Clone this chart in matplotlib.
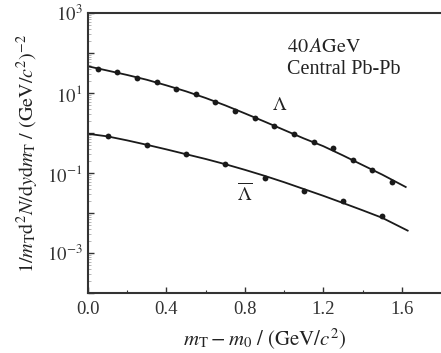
import matplotlib
matplotlib.use("Agg")
import matplotlib.pyplot as plt
from matplotlib.ticker import FixedLocator, NullFormatter, LogLocator

plt.rcParams['font.family'] = ['Liberation Serif', 'DejaVu Serif']
plt.rcParams['mathtext.fontset'] = 'stix'

# Lambda data points
lam_x = [0.05, 0.15, 0.25, 0.35, 0.45, 0.55, 0.65, 0.75, 0.85, 0.95,
         1.05, 1.15, 1.25, 1.35, 1.45, 1.55]
lam_y = [40.5, 32.9, 24.1, 18.5, 12.4, 9.28, 5.96, 3.49, 2.33, 1.47,
         0.928, 0.606, 0.414, 0.208, 0.121, 0.0606]
# Lambda fit curve
lam_fit_x = [0.0, 0.1, 0.2, 0.3, 0.4, 0.5, 0.6, 0.7, 0.8, 0.9, 1.0,
             1.1, 1.2, 1.3, 1.4, 1.5, 1.62]
lam_fit_y = [46.5, 36.3, 28.2, 21.4, 15.5, 11.0, 7.50, 4.90, 3.09, 1.93,
             1.19, 0.733, 0.468, 0.275, 0.158, 0.0912, 0.0447]

# Anti-Lambda data points
alam_x = [0.1, 0.3, 0.5, 0.7, 0.9, 1.1, 1.3, 1.5]
alam_y = [0.841, 0.501, 0.299, 0.171, 0.075, 0.0355, 0.0196, 0.0084]
# Anti-Lambda fit curve
alam_fit_x = [0.0, 0.1, 0.2, 0.3, 0.4, 0.5, 0.6, 0.7, 0.8, 0.9, 1.0,
              1.1, 1.2, 1.3, 1.4, 1.5, 1.63]
alam_fit_y = [0.955, 0.822, 0.653, 0.507, 0.389, 0.295, 0.224, 0.166,
              0.120, 0.0851, 0.0589, 0.0398, 0.0269, 0.0178, 0.0117,
              0.00759, 0.00363]

xticks = [0.0, 0.4, 0.8, 1.2, 1.6]
xtick_labels = ["0.0", "0.4", "0.8", "1.2", "1.6"]
yticks = [1e3, 1e2, 1e1, 1e0, 1e-1, 1e-2, 1e-3, 1e-4]
ytick_labels = [r"$10^{3}$", "", r"$10^{1}$", "", r"$10^{-1}$", "",
                r"$10^{-3}$", ""]

W, H = 441, 353
fig = plt.figure(figsize=(W / 100, H / 100), dpi=100)
ax = fig.add_axes([88 / W, 1 - 293 / H, (W - 88) / W, (293 - 13) / H])

col = '#1a1a1a'
ax.plot(lam_fit_x, lam_fit_y, color=col, lw=1.3)
ax.plot(alam_fit_x, alam_fit_y, color=col, lw=1.3)
ax.plot(lam_x, lam_y, 'o', color=col, ms=4.2, mew=0)
ax.plot(alam_x, alam_y, 'o', color=col, ms=4.2, mew=0)

ax.set_yscale('log')
ax.set_xlim(0, 1.8)
ax.set_ylim(1e-4, 1e3)

ax.yaxis.set_major_locator(FixedLocator(yticks))
ax.set_yticklabels(ytick_labels)
ax.yaxis.set_minor_locator(LogLocator(base=10, subs=range(2, 10), numticks=20))
ax.yaxis.set_minor_formatter(NullFormatter())
ax.xaxis.set_major_locator(FixedLocator(xticks))
ax.set_xticklabels(xtick_labels)
ax.xaxis.set_minor_locator(FixedLocator([0.2, 0.6, 1.0, 1.4]))

ax.tick_params(which='both', direction='in', colors='#333333', labelsize=13.5,
               top=False, right=False, labelcolor='#333333')
ax.tick_params(which='major', length=4, width=1.0)
ax.tick_params(axis='y', which='minor', length=2, width=0.5, colors='#999999')
ax.tick_params(axis='x', which='minor', length=2.5, width=0.8)
ax.tick_params(axis='x', pad=6)
ax.tick_params(axis='y', pad=4)

for s in ['left', 'bottom', 'top']:
    ax.spines[s].set_linewidth(1.5)
    ax.spines[s].set_color('#333333')
ax.spines['right'].set_visible(False)

ax.set_xlabel(r'$m_{\mathrm{T}}-m_{0}\ /\ (\mathrm{GeV}/c^{2})$',
              fontsize=15, color='#222222', labelpad=6)
ax.set_ylabel(r'$1/m_{\mathrm{T}}\mathrm{d}^{2}N/\mathrm{d}y\mathrm{d}m_{\mathrm{T}}\ /\ (\mathrm{GeV}/c^{2})^{-2}$',
              fontsize=14.5, color='#222222', labelpad=4)

ax.text(0.564, 0.875, r'$40\,A\mathrm{GeV}$', transform=ax.transAxes,
        fontsize=14.5, color='#222222', va='center', ha='left')
ax.text(0.564, 0.80, 'Central Pb-Pb', transform=ax.transAxes,
        fontsize=14.5, color='#222222', va='center', ha='left')
ax.text(0.978, 5.0, r'$\Lambda$', fontsize=14, color='#222222',
        ha='center', va='center')
ax.text(0.80, 0.0316, r'$\overline{\Lambda}$', fontsize=14,
        color='#222222', ha='center', va='center')

fig.savefig('out.png', dpi=100)
